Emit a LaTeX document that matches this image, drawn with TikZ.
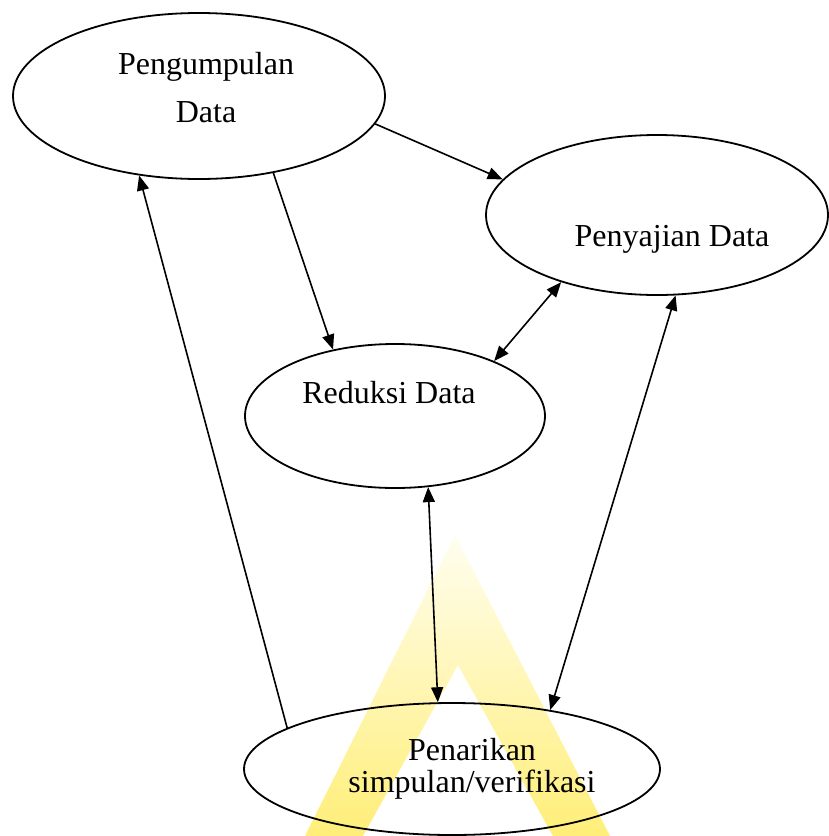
\documentclass[tikz,border=0pt]{standalone}
\usepackage{fontspec}
\setmainfont{Liberation Serif}
\usetikzlibrary{shapes.geometric,arrows.meta}
\definecolor{wmtop}{RGB}{255,254,240}
\definecolor{wmbot}{RGB}{255,238,120}
\tikzset{
  oval/.style={draw, ellipse, line width=1.8pt, inner sep=0pt},
  lbl/.style={font=\fontsize{32}{32}\selectfont, inner sep=0pt, align=center},
  con/.style={line width=1.6pt},
  tip/.style={-{Triangle[length=15pt,width=12pt]}},
  both/.style={{Triangle[length=15pt,width=12pt]}-{Triangle[length=15pt,width=12pt]}},
}
\begin{document}
\begin{tikzpicture}[x=1pt,y=-1pt]
\useasboundingbox (0,0) rectangle (828,836);
% watermark
\begin{scope}
  \clip (455,535) -- (610,836) -- (553,836) -- (458,665) -- (363,836) -- (305,836) -- cycle;
  \shade[top color=wmtop, bottom color=wmbot] (300,535) rectangle (615,836);
\end{scope}
% ellipses
\node[oval, minimum width=372pt, minimum height=166pt] (peng) at (199,96) {};
\node[oval, minimum width=342pt, minimum height=160pt] (peny) at (657,215) {};
\node[oval, minimum width=300pt, minimum height=144pt] (redu) at (395,416) {};
\node[oval, minimum width=416pt, minimum height=132pt] (pena) at (452,769) {};
% labels
\node[lbl, font=\fontsize{32}{48}\selectfont] (tpeng) at (206,88) {Pengumpulan\\Data};
\node[lbl, anchor=base] (tpeny) at (672,246) {Penyajian Data};
\node[lbl, anchor=base] (tredu) at (389,403) {Reduksi Data};
\node[lbl] (tpena) at (472,769) {Penarikan\\simpulan/verifikasi};
% connectors
\draw[con,tip] (peng.-9.6) -- (peny.167.9);
\draw[con,tip] (peng.-46.8) -- (redu.133);
\draw[con,both] (redu.29.3) -- (peny.-145.8);
\draw[con,both] (redu.-65.9) -- (pena.102.2);
\draw[con,both] (peny.-77.5) -- (pena.31.6);
\draw[con,tip] (pena.166.1) -- (peng.-127.8);
\end{tikzpicture}
\end{document}
